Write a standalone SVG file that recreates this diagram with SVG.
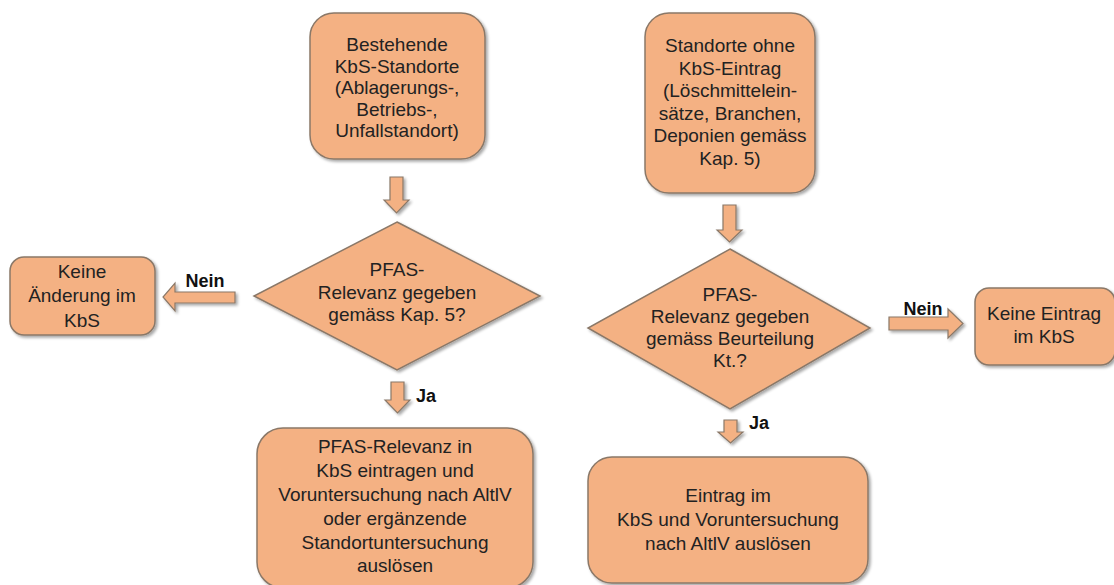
<svg xmlns="http://www.w3.org/2000/svg" width="1114" height="585" viewBox="0 0 1114 585">
<defs>
<filter id="sh" x="-10%" y="-10%" width="130%" height="130%">
<feGaussianBlur in="SourceAlpha" stdDeviation="1.5"/>
<feOffset dx="2" dy="2" result="o"/>
<feComponentTransfer><feFuncA type="linear" slope="0.35"/></feComponentTransfer>
<feMerge><feMergeNode/><feMergeNode in="SourceGraphic"/></feMerge>
</filter>
<style>
.n{fill:#F4B183;stroke:#8A7868;stroke-width:1.5;filter:url(#sh)}
.a{fill:#F4B183;stroke:#8A7868;stroke-width:1.2;filter:url(#sh)}
text{font-family:"Liberation Sans",Arial,sans-serif;font-size:19px;fill:#222;text-anchor:middle}
.l{font-weight:bold;fill:#111;font-size:18px}
</style>
</defs>
<rect width="1114" height="585" fill="#fff"/>
<g id="n1"><rect class="n" x="310" y="13" width="175" height="146" rx="24"/>
<text x="397" y="51">Bestehende</text><text x="397" y="73">KbS-Standorte</text><text x="397" y="94">(Ablagerungs-,</text><text x="397" y="116">Betriebs-,</text><text x="397" y="137">Unfallstandort)</text></g>
<g id="n2"><rect class="n" x="645" y="13" width="170" height="180" rx="24"/>
<text x="730" y="52">Standorte ohne</text><text x="730" y="75">KbS-Eintrag</text><text x="730" y="97">(Löschmittelein-</text><text x="730" y="120">sätze, Branchen,</text><text x="730" y="142">Deponien gemäss</text><text x="730" y="165">Kap. 5)</text></g>
<g id="d1"><polygon class="n" points="397,222 540,296 397,370 254,296"/>
<text x="397" y="276">PFAS-</text><text x="397" y="299">Relevanz gegeben</text><text x="397" y="321">gemäss Kap. 5?</text></g>
<g id="d2"><polygon class="n" points="730,249 870,328 730,409 588,328"/>
<text x="730" y="301">PFAS-</text><text x="730" y="323">Relevanz gegeben</text><text x="730" y="345">gemäss Beurteilung</text><text x="730" y="367">Kt.?</text></g>
<g id="n3"><rect class="n" x="10" y="257" width="145" height="78" rx="14"/>
<text x="82" y="278">Keine</text><text x="82" y="302">Änderung im</text><text x="82" y="327">KbS</text></g>
<g id="n4"><rect class="n" x="975" y="288" width="140" height="77" rx="14"/>
<text x="1044" y="320">Keine Eintrag</text><text x="1044" y="343">im KbS</text></g>
<g id="n5"><rect class="n" x="257" y="428" width="276" height="160" rx="26"/>
<text x="395" y="453">PFAS-Relevanz in</text><text x="395" y="477">KbS eintragen und</text><text x="395" y="501">Voruntersuchung nach AltlV</text><text x="395" y="525">oder ergänzende</text><text x="395" y="549">Standortuntersuchung</text><text x="395" y="572">auslösen</text></g>
<g id="n6"><rect class="n" x="588" y="457" width="280" height="126" rx="24"/>
<text x="728" y="502">Eintrag im</text><text x="728" y="526">KbS und Voruntersuchung</text><text x="728" y="550">nach AltlV auslösen</text></g>
<g id="connectors">
<polygon class="a" points="390,177 403,177 403,200 409,200 396.5,213 384,200 390,200"/>
<polygon class="a" points="723,205 736,205 736,230 742,230 729.5,242 717,230 723,230"/>
<polygon class="a" points="235,292 175,292 175,283 163,297 175,311 175,303 235,303"/>
<polygon class="a" points="889,317 948,317 948,309 963,323.5 948,338 948,330 889,330"/>
<polygon class="a" points="391,382 404,382 404,400 410,400 397.5,413 385,400 391,400"/>
<polygon class="a" points="724,420 737,420 737,432 743,432 730.5,443 718,432 724,432"/>
<text class="l" x="205" y="287">Nein</text>
<text class="l" x="923" y="315">Nein</text>
<text class="l" x="426" y="402">Ja</text>
<text class="l" x="759" y="429">Ja</text>
</g>
</svg>
